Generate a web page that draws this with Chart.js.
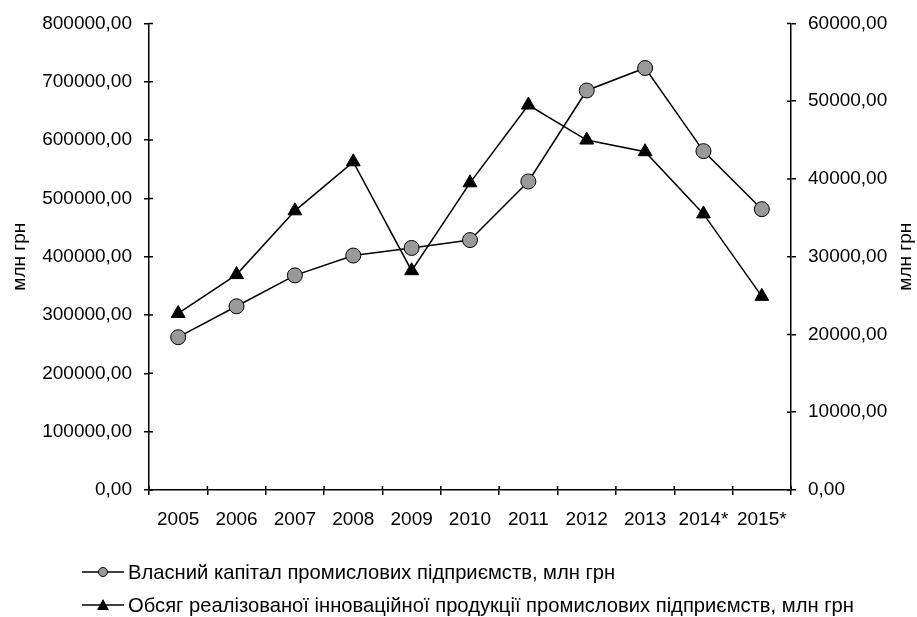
<!DOCTYPE html>
<html>
<head>
<meta charset="utf-8">
<script src="https://cdn.jsdelivr.net/npm/chart.js@4"></script>
<style>
  body { margin: 0; background: #fff; }
  #wrap { position: relative; width: 917px; height: 617px; }
  .leg { position: absolute; left: 82px; height: 24px; display: flex; align-items: center;
         font: 20.2px 'Liberation Sans', Arial, sans-serif; color: #000; white-space: nowrap; }
  .leg svg { margin-right: 4px; }
</style>
</head>
<body>
<div id="wrap">
  <canvas id="myChart" width="917" height="617"></canvas>
  <div class="leg" style="top:560px">
    <svg width="42" height="20"><line x1="0" y1="10" x2="42" y2="10" stroke="#000" stroke-width="1.5"/><circle cx="21" cy="10" r="4.5" fill="#999" stroke="#000" stroke-width="1"/></svg>
    <span id="leg1"></span>
  </div>
  <div class="leg" style="top:593px">
    <svg width="42" height="20"><line x1="0" y1="10" x2="42" y2="10" stroke="#000" stroke-width="1.5"/><polygon points="21,4 27,15 15,15" fill="#000"/></svg>
    <span id="leg2"></span>
  </div>
</div>
<script>
const roky = ['2005', '2006', '2007', '2008', '2009', '2010', '2011', '2012', '2013', '2014*', '2015*'];
const vlasnyiKapital = [262000, 315000, 368000, 402000, 415000, 428500, 529000, 685000, 723500, 581000, 481500];
const innovProduktsiia = [22700, 27700, 35900, 42200, 28200, 39500, 49500, 45000, 43500, 35500, 24900];
const nazvaKapital = 'Власний капітал промислових підприємств, млн грн';
const nazvaInnov = 'Обсяг реалізованої інноваційної продукції промислових підприємств, млн грн';
const nazvaOsi = 'млн грн';

const shryft = "'Liberation Sans', Arial, sans-serif";
document.getElementById('leg1').textContent = nazvaKapital;
document.getElementById('leg2').textContent = nazvaInnov;

function formatChyslo(v) {
    return Number(v).toFixed(2).replace('.', ',');
}

// dodatkovi ryski vseredynu ta pidpysy osei (povernuti odnakovo)
const ryskyPlugin = {
    id: 'rysky',
    afterDraw(chart) {
        const ctx = chart.ctx;
        const area = chart.chartArea;
        ctx.save();
        ctx.strokeStyle = '#000';
        ctx.lineWidth = 1.5;
        ctx.beginPath();
        const yL = chart.scales.y;
        yL.ticks.forEach((t, i) => {
            const y = yL.getPixelForTick(i);
            ctx.moveTo(area.left, y); ctx.lineTo(area.left + 4, y);
        });
        const yR = chart.scales.y1;
        yR.ticks.forEach((t, i) => {
            const y = yR.getPixelForTick(i);
            ctx.moveTo(area.right - 4, y); ctx.lineTo(area.right, y);
        });
        const xs = chart.scales.x;
        const krok = xs.getPixelForTick(1) - xs.getPixelForTick(0);
        for (let i = 0; i <= roky.length; i++) {
            const x = xs.getPixelForTick(0) - krok / 2 + i * krok;
            ctx.moveTo(x, area.bottom - 4); ctx.lineTo(x, area.bottom);
        }
        ctx.stroke();

        ctx.fillStyle = '#000';
        ctx.font = '19px ' + shryft;
        ctx.textAlign = 'center';
        ctx.textBaseline = 'middle';
        const cy = (area.top + area.bottom) / 2;
        [20, 906].forEach(x => {
            ctx.save();
            ctx.translate(x, cy);
            ctx.rotate(-Math.PI / 2);
            ctx.fillText(nazvaOsi, 0, 0);
            ctx.restore();
        });
        ctx.restore();
    }
};

const osGrid = { display: true, drawOnChartArea: false, color: '#000', tickLength: 5, lineWidth: 1.5 };
const osBorder = { display: true, color: '#000', width: 1.5 };
const osTicks = { color: '#000', font: { family: shryft, size: 19 }, padding: 12 };

new Chart(document.getElementById('myChart').getContext('2d'), {
    type: 'line',
    data: {
        labels: roky,
        datasets: [{
            label: nazvaKapital,
            data: vlasnyiKapital,
            yAxisID: 'y',
            borderColor: '#000',
            borderWidth: 1.5,
            pointStyle: 'circle',
            pointRadius: 7.5,
            pointBackgroundColor: '#999999',
            pointBorderColor: '#000',
            pointBorderWidth: 1,
            tension: 0
        }, {
            label: nazvaInnov,
            data: innovProduktsiia,
            yAxisID: 'y1',
            borderColor: '#000',
            borderWidth: 1.5,
            pointStyle: 'triangle',
            pointRadius: 8,
            pointBackgroundColor: '#000',
            pointBorderColor: '#000',
            pointBorderWidth: 1,
            tension: 0
        }]
    },
    options: {
        responsive: false,
        animation: false,
        layout: { padding: { top: 22, left: 0, right: 0, bottom: 0 } },
        plugins: { legend: { display: false }, tooltip: { enabled: false } },
        scales: {
            x: {
                type: 'category',
                offset: true,
                grid: Object.assign({}, osGrid, { offset: true }),
                border: osBorder,
                ticks: Object.assign({}, osTicks, { padding: 13, maxRotation: 0, autoSkip: false }),
                afterFit(s) { s.height = 127; }
            },
            y: {
                position: 'left',
                min: 0, max: 800000,
                grid: osGrid,
                border: osBorder,
                ticks: Object.assign({}, osTicks, { stepSize: 100000, callback: formatChyslo }),
                afterFit(s) { s.width = 149; }
            },
            y1: {
                position: 'right',
                min: 0, max: 60000,
                grid: osGrid,
                border: osBorder,
                ticks: Object.assign({}, osTicks, { stepSize: 10000, callback: formatChyslo }),
                afterFit(s) { s.width = 126; }
            }
        }
    },
    plugins: [ryskyPlugin]
});
</script>
</body>
</html>
